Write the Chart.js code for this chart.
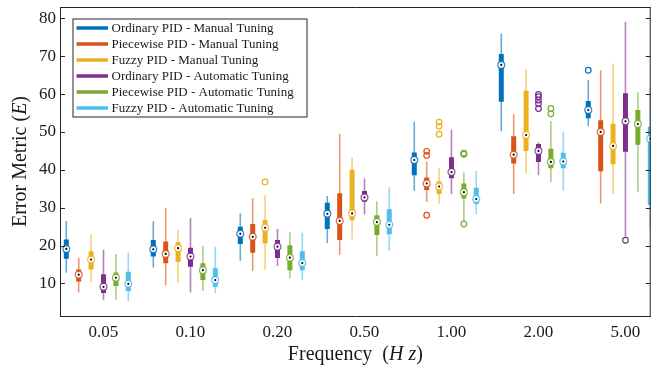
<!DOCTYPE html>
<html>
<head>
<meta charset="utf-8">
<script src="https://cdn.jsdelivr.net/npm/chart.js@4.4.1/dist/chart.umd.min.js"></script>
<style>
  html, body { margin: 0; padding: 0; background: #fff; overflow: hidden; }
  #wrap { width: 652px; height: 369px; overflow: hidden; }
</style>
</head>
<body>
<div id="wrap"><canvas id="chart" width="656" height="369"></canvas></div>
<script>
const freqLabels = ['0.05', '0.10', '0.20', '0.50', '1.00', '2.00', '5.00'];
const seriesNames = [
  'Ordinary PID - Manual Tuning',
  'Piecewise PID - Manual Tuning',
  'Fuzzy PID - Manual Tuning',
  'Ordinary PID - Automatic Tuning',
  'Piecewise PID - Automatic Tuning',
  'Fuzzy PID - Automatic Tuning',
];
const seriesColors = ['#0072BD', '#D95319', '#EDB120', '#7E2F8E', '#77AC30', '#4DBEEE'];
const yTicks = [10, 20, 30, 40, 50, 60, 70, 80];

// [lower whisker, q1, median, q3, upper whisker] for each frequency
const ordinaryManual = [
  [12.8, 16.5, 19.1, 21.6, 26.5],
  [14.2, 17.1, 19.0, 21.5, 26.4],
  [16.0, 20.4, 23.1, 25.0, 28.5],
  [20.7, 24.4, 28.4, 31.3, 33.1],
  [34.5, 38.6, 42.6, 44.6, 52.7],
  [50.2, 58.0, 67.7, 70.6, 76.0],
  [51.6, 53.6, 55.8, 58.2, 63.7],
];
const piecewiseManual = [
  [7.6, 10.5, 12.3, 13.7, 16.8],
  [9.5, 15.3, 17.8, 21.1, 29.9],
  [13.3, 18.1, 22.3, 25.7, 32.5],
  [17.5, 21.5, 26.5, 33.8, 49.5],
  [31.6, 34.7, 36.4, 38.0, 42.2],
  [33.6, 41.7, 44.0, 48.9, 54.7],
  [31.1, 39.6, 50.0, 53.1, 66.3],
];
const fuzzyManual = [
  [10.3, 13.7, 16.3, 18.5, 23.0],
  [10.2, 15.7, 19.3, 20.9, 24.1],
  [13.7, 20.6, 24.7, 26.7, 33.3],
  [21.7, 26.7, 28.5, 40.0, 43.3],
  [31.1, 33.6, 35.6, 36.9, 40.4],
  [39.1, 45.0, 49.2, 60.9, 66.5],
  [33.6, 41.5, 46.3, 52.2, 68.1],
];
const ordinaryAuto = [
  [5.7, 7.5, 9.1, 12.4, 18.9],
  [7.6, 14.4, 17.1, 19.4, 27.3],
  [14.6, 16.7, 19.7, 21.5, 24.4],
  [28.2, 31.6, 32.7, 34.4, 37.7],
  [33.6, 37.8, 39.4, 43.3, 50.6],
  [38.6, 42.1, 45.0, 46.8, 47.2],
  [22.3, 44.8, 52.8, 60.2, 79.1],
];
const piecewiseAuto = [
  [5.7, 9.3, 11.5, 12.9, 17.8],
  [8.0, 10.9, 13.5, 15.3, 19.9],
  [11.3, 13.5, 16.8, 20.1, 23.5],
  [17.2, 22.8, 26.2, 28.0, 31.7],
  [26.5, 32.4, 34.1, 36.4, 39.3],
  [36.8, 40.4, 42.1, 45.6, 52.9],
  [34.2, 46.6, 52.1, 55.8, 60.5],
];
const fuzzyAuto = [
  [5.2, 8.0, 9.9, 13.1, 18.1],
  [7.5, 9.1, 10.9, 14.0, 19.7],
  [11.0, 13.5, 15.4, 18.5, 23.4],
  [18.6, 23.0, 25.5, 29.6, 35.4],
  [28.3, 31.0, 32.3, 35.3, 39.7],
  [34.5, 40.4, 42.2, 44.5, 50.1],
  [24.0, 30.7, 48.2, 51.4, 61.8],
];
// [series index, frequency index, value]
const outliers = [
  [0, 6, 66.3],
  [1, 4, 44.9], [1, 4, 43.8], [1, 4, 28.0],
  [2, 2, 36.8], [2, 4, 52.6], [2, 4, 51.5], [2, 4, 49.4],
  [3, 5, 59.9], [3, 5, 59.3], [3, 5, 58.4], [3, 5, 57.5], [3, 5, 56.2], [3, 6, 21.4],
  [4, 4, 44.1], [4, 4, 44.3], [4, 4, 44.4], [4, 4, 25.7], [4, 5, 56.2], [4, 5, 54.8],
];

const allSeries = [ordinaryManual, piecewiseManual, fuzzyManual, ordinaryAuto, piecewiseAuto, fuzzyAuto];
const SERIF = '"Liberation Serif", "Times New Roman", serif';
const INK = '#1a1a1a';
const AXIS = '#262626';
const SPREAD = 0.1425;

const posOf = (s, f) => f + (s - 3) * SPREAD;
const fade = (hex, a) => {
  const n = parseInt(hex.slice(1), 16);
  return `rgba(${n >> 16},${(n >> 8) & 255},${n & 255},${a})`;
};

const datasets = [];
allSeries.forEach((rows, s) => {
  const whisk = [], box = [], med = [];
  rows.forEach((r, f) => {
    const x = posOf(s, f);
    whisk.push({ x, y: r[0] }, { x, y: r[4] }, { x, y: null });
    box.push({ x, y: r[1] }, { x, y: r[3] }, { x, y: null });
    med.push({ x, y: r[2] });
  });
  const c = seriesColors[s];
  datasets.push({
    data: whisk, borderColor: fade(c, 0.6), borderWidth: 1.6,
    pointRadius: 0, borderCapStyle: 'butt', order: 5,
  });
  datasets.push({
    data: box, borderColor: c, borderWidth: 5,
    pointRadius: 0, borderCapStyle: 'butt', order: 4,
  });
  datasets.push({
    data: med, showLine: false, pointRadius: 3.4, pointBorderWidth: 1.3,
    pointBackgroundColor: '#fff', pointBorderColor: fade(c, 0.8), order: 2,
  });
  datasets.push({
    data: med, showLine: false, pointRadius: 1.1, pointBorderWidth: 0,
    pointBackgroundColor: '#000', order: 1,
  });
  datasets.push({
    data: outliers.filter(o => o[0] === s).map(o => ({ x: posOf(s, o[1]), y: o[2] })),
    showLine: false, pointRadius: 2.8, pointBorderWidth: 1.2,
    pointBackgroundColor: 'rgba(255,255,255,0)', pointBorderColor: c, order: 3,
  });
});

const frame = {
  id: 'frame',
  afterDraw(chart) {
    const { ctx, chartArea: a, scales: { y } } = chart;
    ctx.save();
    ctx.strokeStyle = AXIS;
    ctx.lineWidth = 1;
    ctx.beginPath();
    ctx.moveTo(a.left, a.top + 0.5); ctx.lineTo(a.right, a.top + 0.5);
    ctx.moveTo(a.right - 0.5, a.top); ctx.lineTo(a.right - 0.5, a.bottom);
    for (const t of y.ticks) {
      const py = Math.round(y.getPixelForValue(t.value)) + 0.5;
      ctx.moveTo(a.left, py); ctx.lineTo(a.left + 5, py);
      ctx.moveTo(a.right, py); ctx.lineTo(a.right - 5, py);
    }
    ctx.stroke();

    // legend
    const lx = a.left + 12.5, ly = a.top + 11.5, lw = 234, lh = 98;
    ctx.fillStyle = '#fff';
    ctx.fillRect(lx, ly, lw, lh);
    ctx.strokeRect(lx + 0.5, ly + 0.5, lw, lh);
    ctx.font = `13px ${SERIF}`;
    ctx.textBaseline = 'middle';
    seriesNames.forEach((name, i) => {
      const ry = ly + 9.5 + i * 16;
      ctx.strokeStyle = seriesColors[i];
      ctx.lineWidth = 3.5;
      ctx.beginPath();
      ctx.moveTo(lx + 4, ry); ctx.lineTo(lx + 35.5, ry);
      ctx.stroke();
      ctx.fillStyle = INK;
      ctx.fillText(name, lx + 39, ry + 0.5);
    });

    // axis titles
    const parts = (p) => p.map(([t, it]) => {
      ctx.font = `${it ? 'italic ' : ''}20px ${SERIF}`;
      return { t, it, w: ctx.measureText(t).width };
    });
    const drawParts = (ps, x0, yy) => {
      let x = x0;
      for (const p of ps) {
        ctx.font = `${p.it ? 'italic ' : ''}20px ${SERIF}`;
        ctx.fillText(p.t, x, yy);
        x += p.w;
      }
    };
    ctx.fillStyle = INK;
    ctx.textBaseline = 'middle';
    ctx.textAlign = 'left';
    const xt = parts([['Frequency  (', false], ['H', true], [' z', true], [')', false]]);
    const xw = xt.reduce((s, p) => s + p.w, 0);
    drawParts(xt, (a.left + a.right) / 2 - xw / 2, 355);

    const yt = parts([['Error Metric (', false], ['E', true], [')', false]]);
    const yw = yt.reduce((s, p) => s + p.w, 0);
    ctx.translate(21, (a.top + a.bottom) / 2);
    ctx.rotate(-Math.PI / 2);
    drawParts(yt, -yw / 2, 0);
    ctx.restore();
  },
};

new Chart(document.getElementById('chart'), {
  type: 'line',
  data: { datasets },
  options: {
    responsive: false,
    devicePixelRatio: 1,
    animation: false,
    spanGaps: false,
    layout: { padding: { top: 7, right: 1, left: 0, bottom: 0 } },
    plugins: { legend: { display: false }, tooltip: { enabled: false } },
    scales: {
      x: {
        type: 'linear',
        min: -0.5,
        max: 6.29,
        afterBuildTicks: s => { s.ticks = freqLabels.map((_, i) => ({ value: i })); },
        afterFit: s => { s.height = 53; s.paddingLeft = 0; s.paddingRight = 0; },
        ticks: {
          callback: v => freqLabels[v],
          font: { family: SERIF, size: 17 },
          color: INK,
          padding: 6,
          maxRotation: 0,
        },
        grid: { display: false, drawTicks: false },
        border: { display: true, color: AXIS, width: 1 },
      },
      y: {
        type: 'linear',
        min: 1.4,
        max: 83,
        afterBuildTicks: s => { s.ticks = yTicks.map(v => ({ value: v })); },
        afterFit: s => { s.width = 60; s.paddingTop = 0; s.paddingBottom = 0; },
        ticks: {
          font: { family: SERIF, size: 17 },
          color: INK,
          padding: 4,
        },
        grid: { display: false, drawTicks: false },
        border: { display: true, color: AXIS, width: 1 },
      },
    },
  },
  plugins: [frame],
});
</script>
</body>
</html>
